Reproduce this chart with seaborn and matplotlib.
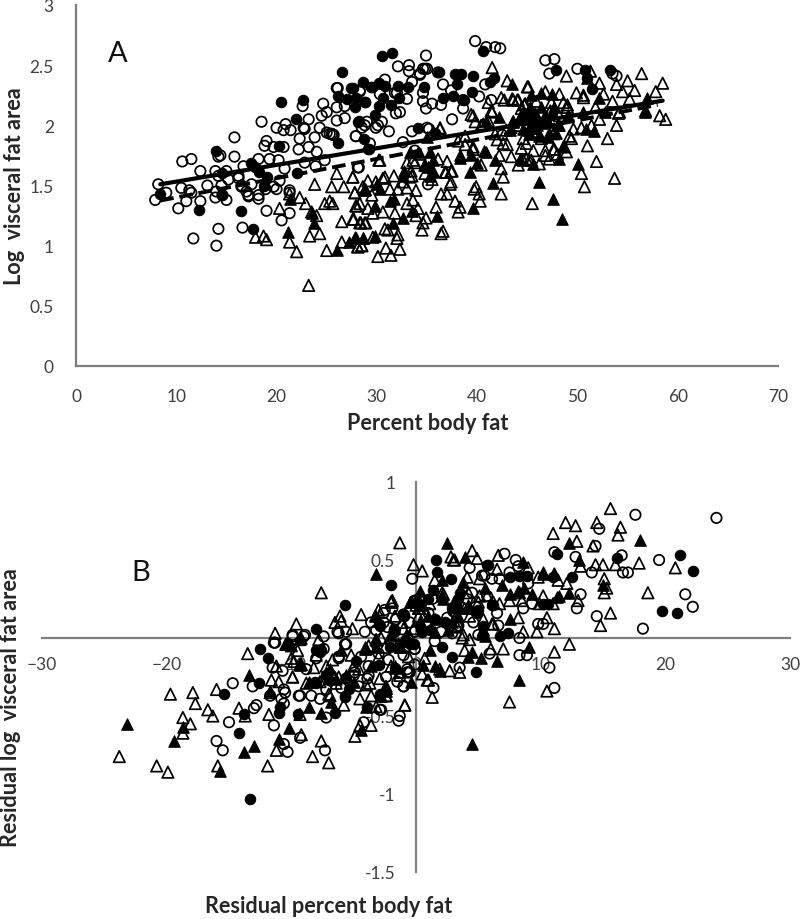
"""Visceral fat vs body fat, panels A and B"""
import pandas as pd
import seaborn as sns
import matplotlib
matplotlib.use('Agg')
import matplotlib.pyplot as plt

# values, (x, y)
a_open_circles = [(8.2,1.51),(7.9,1.38),(9.0,1.44),(10.6,1.70),(11.5,1.72),(12.4,1.62),(10.5,1.48),(11.3,1.46),(11.5,1.44),(11.0,1.37),(10.2,1.31),(12.4,1.37),(13.1,1.50),(13.9,1.62),(15.8,1.90),(15.8,1.74),(14.4,1.75),(14.2,1.74),(11.7,1.06),(14.0,1.00),(14.2,1.14),(16.6,1.15),(19.0,1.29),(20.5,1.21),(21.3,1.27),(18.5,2.03),
(14.2,1.58),(15.0,1.62),(14.5,1.50),(15.2,1.55),(14.0,1.45),(14.6,1.42),(15.0,1.38),(13.9,1.40),(16.2,1.56),(16.5,1.50),(17.0,1.45),(17.2,1.41),(18.2,1.39),(18.9,1.47),(20.0,1.47),(26.0,2.15),(26.1,2.31),(28.3,2.28),(23.2,2.05),(24.5,2.08),(25.0,2.11),(24.65,2.18),(22.6,2.16),
(20.0,1.98),(20.9,2.01),(20.7,1.96),(21.4,1.96),(22.7,1.98),(22.8,1.97),(19.0,1.87),(18.8,1.83),(19.7,1.82),(20.7,1.82),(22.3,1.89),(22.2,1.80),(23.2,1.82),(23.8,1.90),(24.0,1.78),(24.3,1.98),(25.0,1.94),(25.5,1.93),(25.6,1.92),(26.0,2.04),(26.8,2.06),(27.9,1.91),(28.1,1.65),(24.8,1.71),(23.9,1.66),(22.8,1.69),(20.8,1.64),(20.2,1.71),(19.3,1.72),(18.2,1.72),(16.7,1.66),(16.2,1.58),(17.5,1.51),(16.5,1.49),(17.2,1.42),(18.2,1.42),(19.7,1.49),(20.3,1.54),(21.3,1.44),(21.3,1.46),
(39.8,2.70),(40.9,2.65),(41.8,2.65),(42.3,2.64),(34.9,2.58),(32.1,2.49),(33.2,2.50),(33.2,2.45),(34.3,2.42),(34.6,2.47),(35.0,2.47),(36.1,2.44),(36.6,2.34),(33.5,2.36),(30.8,2.38),(28.3,2.29),(30.3,2.26),(31.8,2.27),(33.0,2.22),(34.6,2.27),(34.6,2.20),(34.9,2.14),(36.4,2.17),(37.4,2.29),(38.6,2.14),(38.6,2.21),(40.2,2.24),(40.8,2.34),(41.4,2.21),(37.5,2.05),(31.9,2.10),(31.2,1.95),(30.5,2.03),(30.1,2.00),(28.8,2.00),(29.3,1.85),(33.5,1.95),(35.0,1.98),(35.2,1.97),(32.6,1.86),(33.8,1.79),(28.2,1.65),(42.5,1.92),(46.8,2.54),(47.7,2.55),(47.2,2.43),(50.0,2.47),(53.9,2.41),(53.5,2.43),(35.1,1.51),
(26.0,2.31),(26.8,2.16),(29.0,2.03),(28.5,1.98),(29.9,1.98),(27.9,1.91),(32.3,2.11),(32.0,2.27),(35.5,2.18),(34.3,2.43),(34.8,2.47),(25.3,1.93),(25.7,1.92)]
a_filled_circles = [(26.5,2.44),(20.4,2.19),(22.6,2.21),(21.9,2.05),(27.4,2.31),(28.6,2.36),(26.1,2.24),(27.0,2.22),(27.9,2.23),(27.8,2.15),(28.8,2.19),(28.1,2.03),(28.7,1.89),(26.1,1.85),(29.1,1.80),(14.0,1.79),(20.2,1.83),(17.5,1.69),(17.8,1.65),(18.2,1.61),(19.0,1.57),(18.7,1.50),(14.6,1.60),(14.6,1.42),(8.4,1.43),(12.3,1.30),(16.5,1.29),(17.6,1.14),(22.0,1.60),
(30.5,2.58),(31.5,2.60),(40.6,2.62),(36.2,2.44),(37.8,2.43),(38.4,2.43),(39.6,2.41),(38.0,2.34),(34.7,2.32),(32.1,2.33),(33.1,2.32),(29.4,2.32),(30.2,2.35),(30.8,2.33),(27.6,2.31),(30.6,2.23),(30.2,2.16),(31.4,2.17),(32.2,2.23),(36.6,2.23),(37.6,2.24),(39.5,2.28),(41.7,2.39),(41.3,2.36),(29.8,2.09),(28.2,2.04),(29.2,1.80),(34.1,1.98),(35.8,1.94),(47.9,2.46),(50.8,2.46),(53.2,2.46),(51.5,2.30),(51.0,2.39),(38.7,2.21),(29.5,2.32),(28.8,2.19)]
a_open_triangles = [(26.0,1.60),(27.6,1.57),(23.8,1.51),(25.5,1.49),(26.7,1.49),(27.8,1.44),(28.8,1.46),(22.3,1.40),(22.9,1.35),(20.3,1.31),(21.3,1.43),(24.8,1.35),(25.3,1.37),(25.6,1.35),(27.9,1.33),(29.1,1.31),(24.0,1.25),(23.5,1.28),(26.5,1.20),(27.6,1.22),(28.4,1.19),(28.8,1.19),(23.3,1.08),(24.3,1.10),(18.7,1.08),(17.9,1.07),(19.0,1.05),(21.3,1.03),(22.0,0.95),(25.0,0.96),(26.5,1.03),(28.1,0.99),(28.5,1.00),(23.2,0.67),
(41.5,2.48),(43.0,2.37),(45.0,2.32),(48.9,2.41),(51.3,2.45),(52.2,2.35),(55.0,2.37),(56.4,2.43),(55.7,2.29),(53.9,2.34),(52.6,2.26),(49.9,2.27),(48.2,2.26),(46.8,2.28),(42.4,2.23),(42.7,2.21),(43.5,2.22),(44.0,2.21),(44.7,2.17),(41.1,2.19),(39.4,2.09),(39.8,2.03),(36.3,1.97),(41.5,2.11),(44.4,2.14),(49.0,2.17),(50.6,2.23),(53.5,2.20),(54.2,2.11),(53.9,2.00),(53.0,1.89),(51.0,1.83),(51.9,1.70),(53.7,1.56),(50.4,1.60),(50.7,1.49),(45.5,1.35),(49.4,1.89),(52.2,2.05),(49.6,1.97),(48.1,2.00),(47.6,1.80),(48.9,1.78),(47.2,1.72),(46.2,1.68),(44.9,1.85),(44.4,1.81),(43.4,1.74),(44.1,1.67),(42.4,1.43),(42.6,1.85),(42.0,1.88),(42.2,1.75),(40.4,1.67),(38.8,1.84),(39.6,1.80),(38.1,1.87),(37.5,1.62),(37.3,1.51),(36.9,1.61),(36.1,1.72),(34.3,1.76),(33.6,1.71),(33.0,1.69),(30.2,1.71),(33.3,1.57),(32.6,1.53),(31.7,1.58),(30.6,1.56),(29.9,1.53),(27.6,1.57),(27.8,1.44),(33.9,1.46),(33.0,1.48),(32.1,1.47),(31.3,1.47),(29.5,1.42),(28.6,1.49),(31.8,1.27),(30.6,1.28),(29.6,1.27),(28.0,1.33),(28.3,1.35),(33.6,1.38),(33.0,1.35),(34.1,1.31),(35.9,1.32),(36.4,1.43),(37.0,1.43),(37.8,1.37),(38.3,1.32),(38.1,1.28),(39.7,1.47),(39.9,1.49),(40.2,1.43),(40.3,1.37),(34.9,1.23),(34.6,1.19),(33.9,1.25),(27.7,1.22),(28.3,1.19),(28.9,1.19),(30.8,1.14),(31.1,1.13),(32.0,1.06),(32.1,1.09),(29.6,1.07),(34.5,1.13),(36.4,1.10),(36.6,1.12),(30.9,0.98),(32.3,0.97),(31.4,0.92),(30.1,0.91),(28.1,0.99),(28.5,1.00),
(46.9,2.05),(48.2,2.08),(47.6,1.93),(46.4,1.89),(45.7,1.93),(44.6,1.89),(43.6,2.03),(42.9,1.96),(41.8,1.93),(40.6,2.01),(38.8,1.91),(48.7,1.82),(49.2,1.91),(45.4,1.71),(44.9,1.72),(54.1,2.10),(50.4,1.98),(51.4,2.00),(51.8,2.15),(58.5,2.35),(58.8,2.05),(58.2,2.08),(57.8,2.28),(56.8,2.12),(55.2,2.22),(54.5,2.28),(45.9,2.20),(47.3,2.12),(46.0,2.06),(44.2,2.00),(37.0,1.70),(35.5,1.55),(34.8,1.60),(33.4,1.62),(45.5,1.95),(46.8,1.75),(43.0,1.84),
(45.1,2.32),(47.4,2.19),(48.6,2.19),(49.0,2.15),(41.4,2.12),(41.1,2.04),(40.4,2.00),(42.4,1.64),(42.6,1.57),(45.6,1.79),(46.8,1.79),(45.2,1.71),(44.6,1.71),(48.0,1.76),(47.7,1.80),(50.6,2.25),(43.6,2.21),(44.1,2.21),(44.8,2.18),(39.6,2.08),(39.6,1.82),(30.8,1.57),(33.5,1.58),(30.3,1.71),(33.8,1.69),(37.4,1.62),(36.8,1.61),(29.1,1.54),(37.4,1.53),(36.3,1.98)]
a_filled_triangles = [(43.5,2.34),(42.2,2.07),(40.9,2.04),(46.4,2.27),(47.5,2.26),(45.4,2.25),(46.4,2.15),(47.7,2.15),(45.3,2.15),(45.3,2.05),(45.6,2.00),(44.6,1.97),(45.2,1.93),(43.3,1.96),(47.2,1.94),(47.1,1.90),(48.2,2.00),(48.6,1.83),(48.2,1.72),(50.1,1.68),(46.2,1.53),(47.6,1.39),(48.5,1.22),(41.6,1.52),(39.6,1.31),(39.3,1.61),(41.8,1.71),(40.7,1.79),(40.0,1.69),(39.4,1.75),(38.3,1.75),(40.9,1.78),(35.5,1.61),(35.1,1.65),(34.7,1.67),(35.6,1.71),(32.7,1.62),(33.3,1.78),(28.8,1.47),(30.3,1.47),(31.7,1.39),(31.3,1.37),(29.8,1.33),(33.5,1.29),(32.6,1.23),(31.6,1.19),(36.0,1.25),(29.8,1.08),(28.6,1.06),(27.8,1.07),(50.9,1.97),(51.7,1.95),(56.7,2.11),(56.9,2.23),(52.7,2.11),(50.6,2.11),(51.0,2.39),(21.1,1.11),(21.3,1.39),(23.7,1.19),(23.5,1.27),(26.0,0.96),(27.2,1.03),(27.9,1.06),(28.6,1.06),(28.8,1.47),(45.8,2.10),(46.0,2.00),(45.0,2.08),(44.5,2.10),(46.5,2.02),(45.5,1.98),
(45.3,2.08),(45.7,2.03),(45.1,1.96),(47.9,1.94),(49.1,2.09),(46.8,2.09),(47.5,2.11),(44.3,2.07),(43.6,2.03),(44.7,2.11),(46.2,1.91),(45.6,1.68),(44.3,1.72),(47.1,2.03),(52.2,2.23),(34.8,1.67),(35.6,1.62),(35.3,1.58),(32.6,1.58),(38.3,1.73),(35.0,1.90),(34.1,1.78),(35.3,1.78),(30.0,1.51)]

a_line_solid_x = [8.4, 58.5]
a_line_solid_y = [1.51, 2.205]
a_line_dash_x = [8.4, 58.0]
a_line_dash_y = [1.375, 2.17]

b_open_circles = [(-14.7,-0.29),(-13.1,-0.31),(-15.0,-0.54),(-16.0,-0.66),(-15.5,-0.72),(-13.0,-0.45),(-12.8,-0.43),(-11.4,-0.56),(-10.6,-0.68),(-10.3,-0.73),(-9.3,-0.64),(-7.3,-0.72),(-11.4,-0.03),(-9.9,0.01),(-9.0,0.01),(-7.4,0.01),(-11.5,-0.19),(-10.7,-0.21),(-10.5,-0.35),(-10.8,-0.39),(-11.7,-0.37),(-10.6,-0.42),(-9.3,-0.37),(-8.4,-0.37),(-7.7,-0.39),(-7.2,-0.51),(-6.3,0.04),(-5.7,-0.04),(-4.1,0.04),(-6.2,-0.13),(-5.0,-0.24),(-4.6,-0.31),(-3.8,-0.18),(-3.9,-0.26),(-2.6,0.16),(-1.9,0.19),(-2.6,0.10),(-1.0,0.15),(-0.7,-0.20),(-1.0,-0.31),(-0.1,-0.07),(-1.4,-0.53),(-1.3,-0.50),(-2.9,-0.46),(-4.2,-0.54),(-7.4,-0.07),(-8.8,-0.20),(-0.1,0.04),(-0.6,-0.22),
(17.6,0.79),(24.1,0.77),(14.7,0.70),(14.4,0.59),(12.8,0.52),(16.5,0.53),(19.5,0.50),(11.1,0.55),(7.1,0.54),(8.0,0.50),(4.3,0.45),(-0.3,0.38),(14.1,0.42),(16.6,0.42),(17.0,0.42),(12.9,0.19),(13.2,0.28),(14.5,0.14),(18.2,0.06),(21.6,0.28),(22.2,0.20),(9.8,0.09),(10.2,0.09),(6.6,0.08),(8.3,0.00),(8.3,-0.11),(8.9,-0.11),(10.7,-0.19),(11.1,-0.32),(5.9,-0.10),(3.5,-0.19),(1.4,-0.32),(-1.0,-0.31),(-0.7,-0.22),(-0.1,-0.07),(1.5,-0.02),(2.9,0.03),(6.5,0.16),(8.6,0.19),(9.3,0.22),(2.5,0.13),(4.6,0.10),(7.5,0.42),(6.7,0.38),(9.0,0.35),(1.3,0.25),(-0.1,0.24),(-1.0,0.15),(-2.5,0.18),(-1.7,0.04),(-1.0,-0.11),(-2.8,-0.46),(-2.4,-0.25),(5.7,0.27),(4.1,0.25),(3.4,0.08),(5.5,0.40),(8.2,0.46),
(-11.3,-0.03),(-9.9,0.02),(-8.9,0.02),(-6.2,0.03),(-5.6,0.04),(-5.6,-0.04),(-3.6,0.10),(-3.8,-0.24),(-6.2,-0.12),(-4.9,-0.22),(-0.5,-0.22),(-0.1,-0.17),(-10.6,-0.33),(-9.4,-0.37),(-5.6,-0.26),(5.3,0.40),(6.1,0.38),(4.5,0.29),(0.0,0.24),(3.3,0.07),(-3.0,-0.10),(-2.0,-0.02),(-3.2,0.05),(-6.8,-0.24),(-8.0,-0.13),(-2.2,-0.14),(-4.4,-0.12),(-1.5,-0.28),(-6.0,-0.32),(-7.2,-0.33),(-2.3,0.07),(-0.5,0.10),(-1.6,0.12),(1.0,0.16),(2.0,0.04),(3.0,0.17),(4.8,0.20),(5.0,0.02)]
b_filled_circles = [(-13.3,-1.03),(-14.2,-0.61),(-15.4,-0.36),(-13.8,-0.49),(-12.6,-0.29),(-12.5,-0.07),(-11.9,-0.13),(-8.0,0.06),(-5.7,0.21),(-8.0,-0.08),(-7.7,-0.09),(-9.5,-0.49),(-11.0,-0.48),(-10.9,-0.44),(-6.5,-0.48),(-8.0,-0.29),(-7.2,-0.24),(-5.4,-0.33),(-5.7,-0.37),(-4.8,-0.15),(-3.0,0.09),(-1.8,0.06),(-1.0,0.14),(-0.5,-0.04),(-2.9,-0.37),(-3.9,-0.44),
(-2.0,0.34),(1.6,0.50),(1.7,0.42),(2.8,0.38),(5.7,0.47),(7.5,0.39),(8.3,0.40),(8.9,0.40),(11.0,0.39),(12.5,0.39),(11.3,0.54),(16.1,0.51),(21.2,0.53),(22.2,0.43),(19.7,0.17),(20.9,0.16),(4.8,-0.22),(7.4,0.03),(6.7,0.01),(-0.5,-0.03),(2.1,-0.06),(2.9,-0.12),(0.5,0.04),(1.1,0.05),(-1.8,0.05),(-1.0,0.15),(-2.9,0.08),(1.4,0.31),(3.5,0.29),(3.0,0.20),(4.9,0.16),(5.4,0.08),(6.1,0.21),(10.6,0.22),
(-7.6,-0.08),(-7.0,-0.27),(-8.1,-0.28),(-5.7,-0.38),(-1.7,-0.19),(-3.0,-0.17),(-2.9,-0.36),(3.4,0.25),(2.9,0.19),(5.0,0.18),(6.2,0.21),(1.5,0.12),(10.2,0.22),(-0.2,-0.04),(5.8,0.47),(-2.1,-0.06),(1.0,0.25),(2.3,0.10)]
b_open_triangles = [(-23.8,-0.76),(-20.8,-0.82),(-19.9,-0.86),(-19.7,-0.36),(-17.9,-0.35),(-17.7,-0.42),(-18.7,-0.51),(-18.1,-0.55),(-18.7,-0.61),(-16.7,-0.46),(-16.3,-0.50),(-16.0,-0.33),(-13.5,-0.10),(-11.3,0.03),(-14.2,-0.45),(-13.7,-0.50),(-15.9,-0.82),(-11.9,-0.82),(-11.2,-0.72),(-9.2,-0.62),(-8.3,-0.76),(-7.6,-0.66),(-7.0,-0.80),(-9.6,0.09),(-7.6,0.29),(-4.4,0.15),(-6.1,0.14),(-6.0,0.11),(-6.5,0.10),(-5.1,0.06),(-2.0,0.23),(-11.6,-0.27),(-11.0,-0.28),(-9.9,-0.25),(-11.7,-0.35),(-11.8,-0.49),(-10.4,-0.04),(-10.0,-0.05),(-9.3,-0.17),(-9.8,-0.15),(-8.2,-0.19),(-5.8,-0.43),(-4.5,-0.39),(-3.6,-0.37),(-2.4,-0.37),(-0.9,-0.43),(-4.9,-0.63),(-4.5,-0.56),(-3.6,-0.56),(-9.3,-0.49),(-6.9,-0.37),(-5.6,-0.25),(-3.2,-0.44),(-1.3,-0.22),(-2.9,-0.26),(-5.0,-0.18),(-8.0,-0.11),(-9.3,-0.01),(-7.7,-0.28),(-8.8,-0.29),(-6.4,-0.29),(-4.0,-0.07),(-3.2,-0.01),(-1.3,-0.05),(-1.0,0.06),(0.0,0.21),
(-1.3,0.61),(-0.2,0.47),(0.5,0.43),(15.6,0.83),(12.0,0.74),(12.8,0.72),(14.5,0.74),(16.4,0.71),(11.0,0.67),(16.2,0.66),(12.9,0.62),(14.2,0.59),(17.9,0.48),(20.8,0.45),(14.4,0.47),(15.0,0.47),(16.0,0.47),(13.2,0.46),(15.1,0.38),(15.3,0.32),(15.1,0.29),(18.6,0.29),(15.6,0.16),(14.8,0.08),(13.0,0.24),(12.1,0.35),(11.4,0.37),(9.8,0.39),(11.1,0.41),(9.0,0.45),(10.2,0.27),(10.5,0.13),(11.1,0.06),(9.7,0.04),(8.6,0.04),(12.3,-0.04),(11.1,-0.09),(7.0,-0.07),(8.2,0.13),(10.5,-0.34),(7.5,-0.41),(1.3,-0.38),(-0.9,-0.43),(0.9,-0.27),(0.5,-0.23),(2.7,-0.21),(3.5,-0.22),(3.9,-0.08),(4.5,0.56),(2.8,0.52),(3.1,0.50),(4.9,0.51),(6.6,0.53),(6.5,0.44),(5.1,0.38),(4.1,0.39),(1.5,0.37),(-1.9,0.24),(0.3,0.19),(3.3,0.11),(6.2,0.09),(3.8,0.02),(5.4,0.05),(4.3,-0.01),(0.7,-0.13),(-1.3,-0.22),(-2.4,-0.37),(-0.5,0.01),(0.5,0.08),(7.5,0.24),(8.3,0.29),(9.9,0.22),(11.0,0.22),(4.3,0.14),(6.2,0.23),(5.1,0.27),(2.1,0.29),(-2.0,-0.18),(-1.3,-0.05),
(-10.2,-0.04),(-9.5,-0.08),(-10.0,-0.13),(-9.2,-0.17),(-9.9,-0.25),(-11.2,-0.18),(-2.0,0.23),(-2.5,-0.06),(-1.4,-0.04),(-3.7,-0.29),(-7.0,-0.36),(-6.2,-0.25),(-4.6,-0.20),(-1.7,0.14),(-0.2,0.06),(-1.1,0.10),(-3.8,-0.05),(-2.8,0.00),(-1.3,-0.24),(-2.4,-0.31),(5.7,0.27),(4.2,0.29),(5.0,0.23),(6.7,0.22),(3.0,0.50),(3.3,0.07),(3.7,0.00),(6.1,0.09),(5.4,0.12),(6.0,-0.07),(1.9,-0.20),(1.0,-0.27),(2.2,0.28),(1.1,0.22),(3.1,0.23),(0.2,0.19),(3.3,0.15),(3.9,0.19),(8.5,0.24),(-3.0,0.18),(-6.7,-0.14),(-7.2,-0.18),(-4.0,-0.30),(-3.0,-0.12),(-0.6,-0.12),(0.2,0.14),(-7.8,-0.01),(-5.2,-0.11)]
b_filled_triangles = [(-23.2,-0.55),(-19.4,-0.66),(-18.7,-0.57),(-13.4,-0.24),(-13.8,-0.73),(-13.0,-0.69),(-15.7,-0.85),(-11.0,-0.65),(-10.2,-0.58),(-8.6,-0.44),(-7.6,-0.48),(-11.7,-0.34),(-6.8,-0.41),(-4.4,-0.59),(-4.0,-0.44),(-2.4,-0.32),(-3.3,0.15),(-0.3,0.23),(-3.2,-0.01),(-4.1,-0.07),(-1.7,-0.19),(-7.2,-0.22),(-6.4,-0.26),(-10.1,-0.04),(-9.3,-0.17),(-8.6,-0.28),(-6.9,-0.20),(-1.3,-0.06),(-3.0,0.11),
(2.5,0.61),(3.9,0.52),(18.0,0.63),(13.1,0.50),(12.3,0.61),(8.6,0.49),(10.2,0.41),(15.0,0.34),(11.5,0.27),(12.3,0.29),(9.3,0.28),(8.7,0.32),(7.5,0.28),(6.9,0.34),(0.3,0.30),(2.1,0.37),(3.8,0.36),(5.5,0.32),(-0.5,0.23),(2.1,0.27),(0.3,0.11),(1.5,0.12),(7.5,0.12),(5.5,0.01),(9.1,-0.06),(8.3,-0.27),(4.5,-0.68),(6.5,-0.15),(5.2,-0.13),(4.2,-0.12),(4.5,-0.09),(1.1,-0.08),(1.5,-0.18),(1.9,-0.21),(0.6,-0.17),(-1.7,-0.18),(-1.3,-0.06),(-2.4,-0.32),(-2.8,-0.37),(4.2,0.21),(3.5,0.19),(2.9,0.10),(1.0,0.14),
(-3.2,0.41),(-9.2,0.00),(-10.5,-0.04),(-3.3,0.14),(-4.1,-0.06),(-3.2,-0.06),(-2.4,-0.34),(-0.5,0.23),(0.0,0.25),(-1.1,-0.02),(-5.6,-0.24),(10.2,0.42),(11.1,0.41),(11.3,0.26),(8.2,0.30),(5.3,0.03),(2.2,0.25),(4.3,0.19),(3.4,0.14),(0.5,0.21),(-2.0,0.02),(-0.8,0.02),(-3.6,-0.18),(-5.0,-0.28),(-6.0,-0.08),(-0.4,-0.28),(1.5,0.04),(2.6,0.05)]

a_xticks = [0, 10, 20, 30, 40, 50, 60, 70]
a_yticks = [0, 0.5, 1, 1.5, 2, 2.5, 3]
a_yticklabels = ['0', '0.5', '1', '1.5', '2', '2.5', '3']
b_xticks = [-30, -20, -10, 0, 10, 20, 30]
b_yticks = [-1.5, -1, -0.5, 0, 0.5, 1]
b_yticklabels = ['-1.5', '-1', '-0.5', '0', '0.5', '1']

GREY = '#7f7f7f'
TICK = '#404040'

sns.set_style('white')
plt.rcParams['font.family'] = ['Lato', 'DejaVu Sans']


def draw_points(ax, pts, marker, filled):
    df = pd.DataFrame(pts, columns=['x', 'y'])
    size = 56 if marker == 'o' else 68
    if filled:
        sns.scatterplot(data=df, x='x', y='y', ax=ax, marker=marker, s=size,
                        color='black', edgecolor='black', linewidth=0.8, zorder=3, clip_on=False)
    else:
        sns.scatterplot(data=df, x='x', y='y', ax=ax, marker=marker, s=size,
                        facecolors='none', edgecolor='black', linewidth=1.25, zorder=3, clip_on=False)


def draw_panel(ax, groups):
    for pts, marker, filled in groups:
        draw_points(ax, pts, marker, filled)


fig = plt.figure(figsize=(8, 9.2), dpi=100)

# panel A
ax1 = fig.add_axes([76 / 800, (920 - 367) / 920, 702 / 800, 361 / 920])
draw_panel(ax1, [(a_open_circles, 'o', False), (a_filled_circles, 'o', True),
                 (a_open_triangles, '^', False), (a_filled_triangles, '^', True)])
sns.lineplot(x=a_line_solid_x, y=a_line_solid_y, ax=ax1, color='black', linewidth=3.0, zorder=4)
sns.lineplot(x=a_line_dash_x, y=a_line_dash_y, ax=ax1, color='black', linewidth=2.8, zorder=4,
             linestyle=(0, (3.5, 1.5)))
ax1.set_xlim(0, 70)
ax1.set_ylim(0, 3)
ax1.set_xticks(a_xticks)
ax1.set_yticks(a_yticks)
ax1.set_yticklabels(a_yticklabels)
sns.despine(ax=ax1)
ax1.set_xlabel('')
ax1.set_ylabel('')
fig.text(118 / 800, 1 - 54 / 920, 'A', fontsize=21, ha='center', va='center', color='#111111')
fig.text(428 / 800, 1 - 424 / 920, 'Percent body fat', fontsize=15.6, fontweight='bold', ha='center', va='center')
fig.text(15 / 800, 1 - 186 / 920, 'Log  visceral fat area', fontsize=15.6, fontweight='bold', ha='center', va='center', rotation=90)

# panel B, axes cross at zero
ax2 = fig.add_axes([42 / 800, (920 - 873) / 920, 748 / 800, 390 / 920])
draw_panel(ax2, [(b_open_circles, 'o', False), (b_filled_circles, 'o', True),
                 (b_open_triangles, '^', False), (b_filled_triangles, '^', True)])
ax2.set_xlim(-30, 30)
ax2.set_ylim(-1.5, 1)
ax2.set_xticks(b_xticks)
ax2.set_yticks(b_yticks)
ax2.set_yticklabels(b_yticklabels)
ax2.spines['left'].set_position(('data', 0))
ax2.spines['bottom'].set_position(('data', 0))
sns.despine(ax=ax2)
ax2.set_xlabel('')
ax2.set_ylabel('')
fig.text(141 / 800, 1 - 573 / 920, 'B', fontsize=21, ha='center', va='center', color='#111111')
fig.text(329 / 800, 1 - 907 / 920, 'Residual percent body fat', fontsize=15.6, fontweight='bold', ha='center', va='center')
fig.text(11 / 800, 1 - 708 / 920, 'Residual log  visceral fat area', fontsize=15.6, fontweight='bold', ha='center', va='center', rotation=90)

for ax in [ax1, ax2]:
    ax.patch.set_alpha(0)
    for side in ['left', 'bottom']:
        ax.spines[side].set_color(GREY)
        ax.spines[side].set_linewidth(1.6)
        ax.spines[side].set_zorder(1)
    ax.tick_params(axis='both', length=0, labelsize=12.5, labelcolor=TICK, pad=16)
ax2.tick_params(axis='x', pad=13)
ax2.tick_params(axis='y', pad=15)

fig.savefig('out.png', dpi=100)
